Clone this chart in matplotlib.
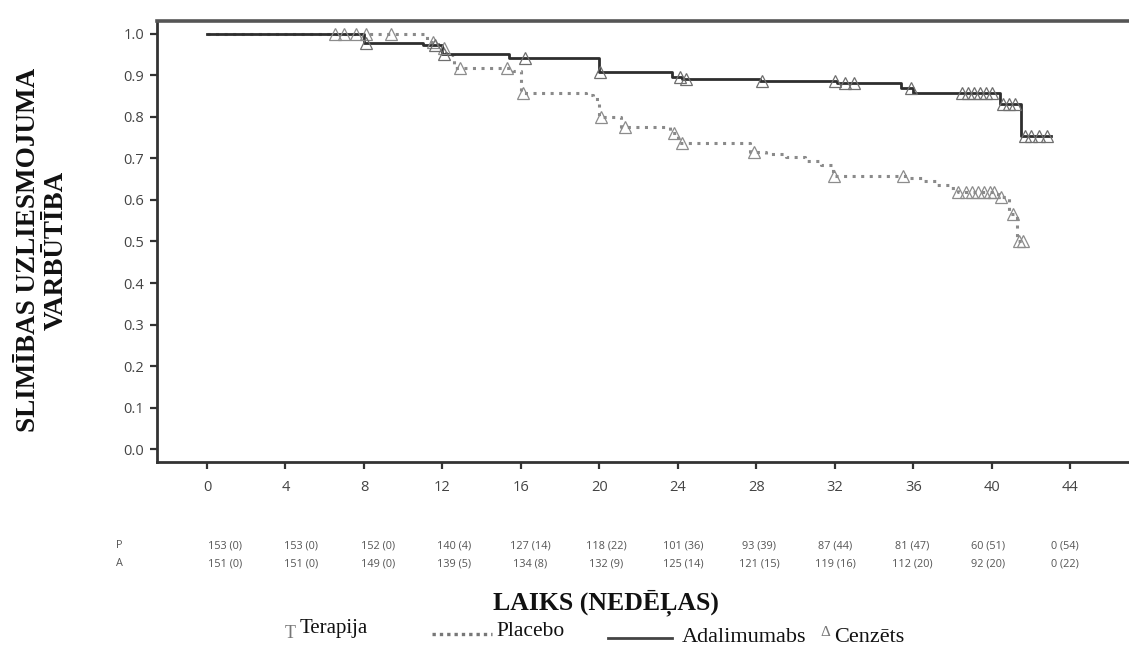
import numpy as np
import matplotlib
matplotlib.use("Agg")
import matplotlib.pyplot as plt
from matplotlib.lines import Line2D
import matplotlib.transforms as mtransforms

# Kaplan-Meier step curves (weeks, survival)
placebo_t = [0, 11.2, 11.8, 12.2, 12.6, 15.6, 16.0, 19.3, 19.7, 20.0, 21.1, 23.6, 24.0,
             27.7, 28.5, 29.5, 30.5, 31.3, 31.9, 35.8, 36.5, 37.2, 37.8, 38.3, 40.3, 40.9, 41.3]
placebo_s = [1.0, 0.98, 0.965, 0.948, 0.918, 0.91, 0.858, 0.852, 0.843, 0.80, 0.776, 0.762, 0.738,
             0.716, 0.71, 0.703, 0.695, 0.685, 0.658, 0.652, 0.645, 0.635, 0.628, 0.62, 0.607, 0.567, 0.502]
placebo_end = 41.6

adal_t = [0, 8.0, 11.0, 12.0, 15.4, 20.0, 23.7, 24.2, 28.2, 32.1, 35.4, 36.0, 40.4, 41.5]
adal_s = [1.0, 0.978, 0.972, 0.952, 0.941, 0.909, 0.897, 0.891, 0.887, 0.881, 0.87, 0.857, 0.832, 0.755]
adal_end = 43.0

# censored times
placebo_cens = [6.5, 7.0, 7.6, 8.1, 9.4, 11.5, 12.1, 12.9, 15.3, 16.1, 20.1, 21.3, 23.8, 24.2,
                27.9, 31.95, 35.5, 38.3, 38.7, 39.0, 39.3, 39.6, 39.9, 40.1, 40.5, 41.1, 41.4, 41.6]
adal_cens = [8.1, 11.6, 12.1, 16.2, 20.05, 24.1, 24.4, 28.3, 32.0, 32.5, 33.0, 35.9, 38.5, 38.8,
             39.1, 39.4, 39.7, 40.0, 40.6, 40.9, 41.2, 41.7, 42.0, 42.4, 42.8]

# numbers at risk (events)
p_risk = ["153 (0)", "153 (0)", "152 (0)", "140 (4)", "127 (14)", "118 (22)", "101 (36)",
          "93 (39)", "87 (44)", "81 (47)", "60 (51)", "0 (54)"]
a_risk = ["151 (0)", "151 (0)", "149 (0)", "139 (5)", "134 (8)", "132 (9)", "125 (14)",
          "121 (15)", "119 (16)", "112 (20)", "92 (20)", "0 (22)"]

xticks = list(range(0, 45, 4))
yticks = [i / 10 for i in range(11)]


def step_val(ts, ss, t):
    idx = np.searchsorted(ts, t, side="right") - 1
    return ss[idx]


fig = plt.figure(figsize=(11.29, 6.48), dpi=100)
ax = fig.add_axes([157 / 1129, 1 - 462 / 648, 1 - 157 / 1129, (462 - 21) / 648])

pt = placebo_t + [placebo_end]
ps = placebo_s + [placebo_s[-1]]
at = adal_t + [adal_end]
as_ = adal_s + [adal_s[-1]]

ax.step(pt, ps, where="post", color="#8a8a8a", lw=2.2, linestyle=(0, (1, 1.8)), zorder=2)
ax.step(at, as_, where="post", color="#2e2e2e", lw=2.0, zorder=3)

pcy = [step_val(placebo_t, placebo_s, t) for t in placebo_cens]
acy = [step_val(adal_t, adal_s, t) for t in adal_cens]
ax.plot(placebo_cens, pcy, linestyle="none", marker="^", ms=8, mfc="none", mec="#8c8c8c", mew=0.9, zorder=4)
ax.plot(adal_cens, acy, linestyle="none", marker="^", ms=8, mfc="none", mec="#6e6e6e", mew=0.9, zorder=4)

ax.set_xlim(-2.55, 47.0)
ax.set_ylim(-0.031, 1.031)
ax.set_xticks(xticks)
ax.set_yticks(yticks)
ax.set_yticklabels([f"{v:.1f}" for v in yticks])

for lab in ax.get_xticklabels() + ax.get_yticklabels():
    lab.set_fontfamily("Open Sans")
    lab.set_fontsize(10.5)
    lab.set_color("#444444")
ax.tick_params(axis="both", direction="out", length=5, width=1.6, color="#333333")
ax.tick_params(axis="x", pad=8)
ax.tick_params(axis="y", pad=4)

ax.spines["right"].set_visible(False)
for s in ["left", "bottom", "top"]:
    ax.spines[s].set_color("#333333")
    ax.spines[s].set_linewidth(2.0)
ax.spines["top"].set_linewidth(2.6)
ax.spines["top"].set_color("#555555")

# risk table
trans = mtransforms.blended_transform_factory(ax.transData, fig.transFigure)
for i, (p, a) in enumerate(zip(p_risk, a_risk)):
    xpos = 0.92 + 3.89 * i
    ax.text(xpos, 1 - 546 / 648, p, transform=trans, ha="center", va="center",
            fontsize=7.8, family="Open Sans", color="#555555")
    ax.text(xpos, 1 - 564 / 648, a, transform=trans, ha="center", va="center",
            fontsize=7.8, family="Open Sans", color="#555555")
fig.text(119 / 1129, 1 - 546 / 648, "P", ha="center", va="center", fontsize=7.8,
         family="Open Sans", color="#555555")
fig.text(119 / 1129, 1 - 564 / 648, "A", ha="center", va="center", fontsize=7.8,
         family="Open Sans", color="#555555")

# axis labels
fig.text(42 / 1129, 1 - 250 / 648, "SLIMĪBAS UZLIESMOJUMA\nVARBŪTĪBA", rotation=90,
         ha="center", va="center", fontsize=19.5, fontweight="bold",
         family="Liberation Serif", linespacing=1.15, color="#111111")
fig.text(606 / 1129, 1 - 603 / 648, "LAIKS (NEDĒĻAS)", ha="center", va="center",
         fontsize=18.5, fontweight="bold", family="Liberation Serif", color="#111111")

# legend
fy = 1 - 634 / 648
fig.text(290 / 1129, 1 - 633 / 648, "T", ha="center", va="center", fontsize=13,
         family="Liberation Serif", color="#777777")
fig.text(300 / 1129, 1 - 628 / 648, "Terapija", ha="left", va="center", fontsize=15,
         family="Liberation Serif", color="#111111")
fig.add_artist(Line2D([432 / 1129, 492 / 1129], [fy, fy], transform=fig.transFigure,
                      color="#777777", lw=2.4, linestyle=(0, (1, 1.2))))
fig.text(496 / 1129, 1 - 632 / 648, "Placebo", ha="left", va="center", fontsize=15.5,
         family="Liberation Serif", color="#111111")
fy2 = 1 - 638 / 648
fig.add_artist(Line2D([608 / 1129, 672 / 1129], [fy2, fy2], transform=fig.transFigure,
                      color="#444444", lw=2.0))
fig.text(682 / 1129, 1 - 637 / 648, "Adalimumabs", ha="left", va="center", fontsize=16,
         family="Liberation Serif", color="#111111")
fig.text(825 / 1129, 1 - 632 / 648, "Δ", ha="center", va="center", fontsize=11,
         family="Liberation Serif", color="#777777")
fig.text(834 / 1129, 1 - 637 / 648, "Cenzēts", ha="left", va="center", fontsize=16,
         family="Liberation Serif", color="#111111")

fig.savefig("out.png", dpi=100)
